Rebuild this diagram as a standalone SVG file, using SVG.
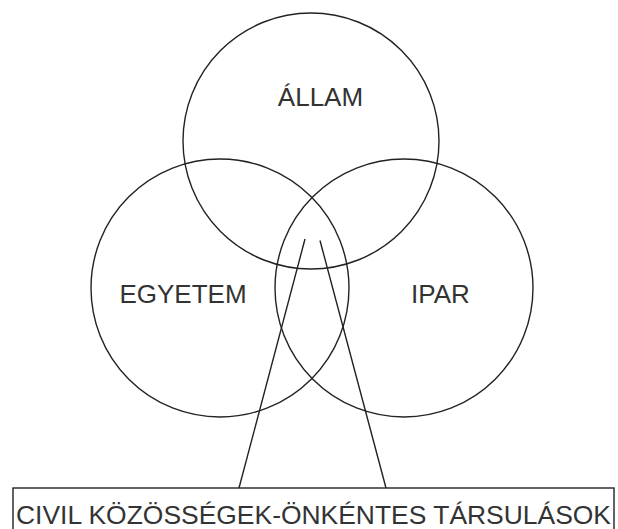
<svg xmlns="http://www.w3.org/2000/svg" width="618" height="529" viewBox="0 0 618 529">
<style>
.c{fill:none;stroke:#222;stroke-width:1.4}
.t{font-family:"Liberation Sans",Arial,sans-serif;font-size:26px;fill:#333;text-anchor:middle}
</style>
<rect width="618" height="529" fill="#fff"/>
<g id="allam"><circle class="c" cx="311" cy="141" r="128"/><text class="t" x="320.5" y="106">ÁLLAM</text></g>
<g id="egyetem"><circle class="c" cx="220" cy="288" r="129"/><text class="t" x="183" y="303">EGYETEM</text></g>
<g id="ipar"><circle class="c" cx="404" cy="288" r="129"/><text class="t" x="440.5" y="303">IPAR</text></g>
<g id="connectors"><line class="c" x1="305" y1="239" x2="239" y2="488"/><line class="c" x1="320" y1="240.5" x2="386" y2="488"/></g>
<g id="civil"><rect class="c" x="13" y="488" width="601" height="60"/><text class="t" x="313.5" y="524" textLength="595" lengthAdjust="spacingAndGlyphs">CIVIL KÖZÖSSÉGEK-ÖNKÉNTES TÁRSULÁSOK</text></g>
</svg>
